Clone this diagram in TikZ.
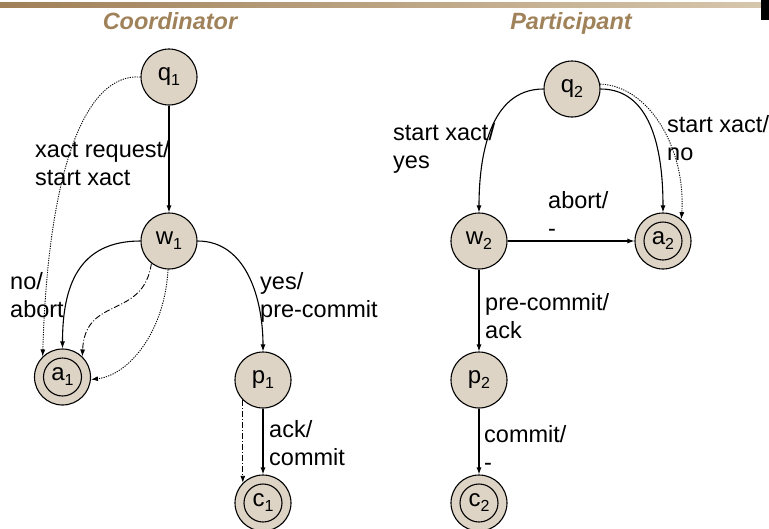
\documentclass[tikz,border=0pt]{standalone}
\usepackage{fontspec}
\setmainfont{Liberation Sans}
\usetikzlibrary{arrows.meta}
\definecolor{statefill}{RGB}{221,212,197}
\definecolor{titlebrown}{RGB}{160,130,90}
\definecolor{barleft}{RGB}{160,128,88}
\definecolor{barright}{RGB}{214,198,172}
% lowered index for state names such as q_1
\newcommand{\stidx}[1]{\raisebox{-5pt}{\fontsize{16}{16}\selectfont #1}}
\begin{document}
\begin{tikzpicture}[x=1pt,y=1pt,
  state/.style={circle, draw, line width=1.1pt, fill=statefill, minimum size=56pt,
    inner sep=0pt, font=\fontsize{24}{24}\selectfont},
  final/.style={state, path picture={\draw[line width=1.1pt]
    (path picture bounding box.center) circle (19pt);}},
  tr/.style={line width=1.1pt, -{Latex[length=7pt,width=5pt]}},
  dottedtr/.style={tr, line width=0.9pt, dash pattern=on 1.2pt off 1.2pt},
  dashdottr/.style={tr, line width=0.9pt, dash pattern=on 6pt off 2pt on 1pt off 2pt},
  lbl/.style={font=\fontsize{23.5}{28}\selectfont, align=left, anchor=base west, inner sep=0pt},
  heading/.style={font=\fontsize{23.5}{28}\selectfont\bfseries\itshape, text=titlebrown, anchor=base, inner sep=0pt}
]
\useasboundingbox (0,0) rectangle (769,-528);

% header rule
\shade[left color=barleft, right color=barright] (0,-2) rectangle (761,-7.5);
\fill[black] (761,0) rectangle (769,-20);

% headings
\node[heading] (hc) at (170,-29) {Coordinator};
\node[heading] (hp) at (571,-29) {Participant};

% coordinator states
\node[state] (q1) at (169,-77) {q\stidx{1}};
\node[state] (w1) at (169,-241) {w\stidx{1}};
\node[final] (a1) at (62.5,-377) {a\stidx{1}};
\node[state] (p1) at (263,-380) {p\stidx{1}};
\node[final] (c1) at (263,-503) {c\stidx{1}};

% participant states
\node[state] (q2) at (572,-89) {q\stidx{2}};
\node[state] (w2) at (479,-241) {w\stidx{2}};
\node[final] (a2) at (663,-241) {a\stidx{2}};
\node[state] (p2) at (479,-380) {p\stidx{2}};
\node[final] (c2) at (479,-503) {c\stidx{2}};

% coordinator transitions
\draw[tr] (q1) -- (w1);
\draw[dottedtr] (q1.west) .. controls (85,-73) and (48,-170) .. (a1.134);
\draw[tr] (w1.west) to[out=180,in=90,looseness=1.2] (a1.north);
\draw[dashdottr] (w1.-128) .. controls (143,-320) and (85,-295) .. (a1.46);
\draw[dottedtr] (w1.-92) .. controls (165,-330) and (130,-375) .. (a1.-5);
\draw[tr] (w1.east) to[out=0,in=90] (p1.north);
\draw[tr] (p1) -- (c1);
\draw[dashdottr] (p1.-135) -- (c1.135);

% participant transitions
\draw[tr] (q2.west) to[out=180,in=90] (w2.north);
\draw[tr] (q2.east) to[out=0,in=90] (a2.north);
\draw[dottedtr] (q2.10) .. controls (650,-86) and (686,-150) .. (a2.50);
\draw[tr] (w2) -- (a2);
\draw[tr] (w2) -- (p2);
\draw[tr] (p2) -- (c2);

% transition labels (anchored at the baseline of their last line)
\node[lbl] (l1) at (35,-185) {xact request/\\start xact};
\node[lbl] (l2) at (10,-317) {no/\\abort};
\node[lbl] (l3) at (260,-317) {yes/\\pre-commit};
\node[lbl] (l4) at (269,-465) {ack/\\commit};
\node[lbl] (l5) at (393,-168) {start xact/\\yes};
\node[lbl] (l6) at (667,-160) {start xact/\\no};
\node[lbl] (l7) at (548,-236) {abort/\\-};
\node[lbl] (l8) at (485,-338) {pre-commit/\\ack};
\node[lbl] (l9) at (484,-470) {commit/\\-};
\end{tikzpicture}
\end{document}
